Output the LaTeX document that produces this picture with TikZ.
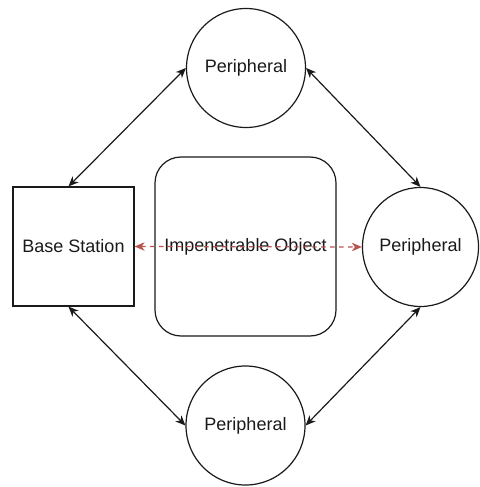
\documentclass[tikz,border=0pt]{standalone}
\usepackage{fontspec}
\setmainfont{Liberation Sans}
\usepackage{tikz}
\usetikzlibrary{arrows.meta,shapes.geometric,positioning}
\definecolor{linkred}{HTML}{B85450}
\definecolor{inkgray}{HTML}{1A1A1A}
\tikzset{
  shapeline/.style={draw=inkgray,line width=1.2pt,fill=white,inner sep=0pt,
    font=\fontsize{18}{21}\selectfont,text=inkgray},
  peripheral/.style={shapeline,ellipse,minimum width=119pt,minimum height=119pt},
  basebox/.style={shapeline,rectangle,minimum width=121pt,minimum height=119pt},
  blocker/.style={shapeline,rectangle,rounded corners=26pt,minimum width=181pt,minimum height=179pt},
  link/.style={{Stealth[length=10pt,width=8.5pt,inset=3pt]}-{Stealth[length=10pt,width=8.5pt,inset=3pt]},
    line width=1.2pt,inkgray},
  redlink/.style={{Stealth[length=10pt,width=8.5pt,inset=3pt]}-{Stealth[length=10pt,width=8.5pt,inset=3pt]},
    line width=1.2pt,linkred,dash pattern=on 4.5pt off 4.5pt}
}

\begin{document}
\begin{tikzpicture}[x=1pt,y=-1pt]
\useasboundingbox (0,0) rectangle (479,487);
% the four stations
\node[basebox] (base) at (73.5,246.5) {Base Station};
\node[blocker] (wall) at (245.5,246.5) {};
\node[peripheral] (top) at (246,68) {Peripheral};
\node[peripheral,minimum width=111pt] (right) at (420.5,247) {Peripheral};
\node[peripheral] (bottom) at (245.5,425.5) {Peripheral};
% radio links around the obstacle
\draw[link] ([xshift=-5pt]base.north) -- (top.west);
\draw[link] (top.east) -- (right.north);
\draw[link] ([xshift=-5pt]base.south) -- (bottom.west);
\draw[link] (right.south) -- (bottom.east);
% direct path is blocked
\node[font=\fontsize{18}{21}\selectfont,text=inkgray] (wallname) at (wall.center) {Impenetrable Object};
\draw[redlink] (base.east) -- (right.west);
\end{tikzpicture}
\end{document}
